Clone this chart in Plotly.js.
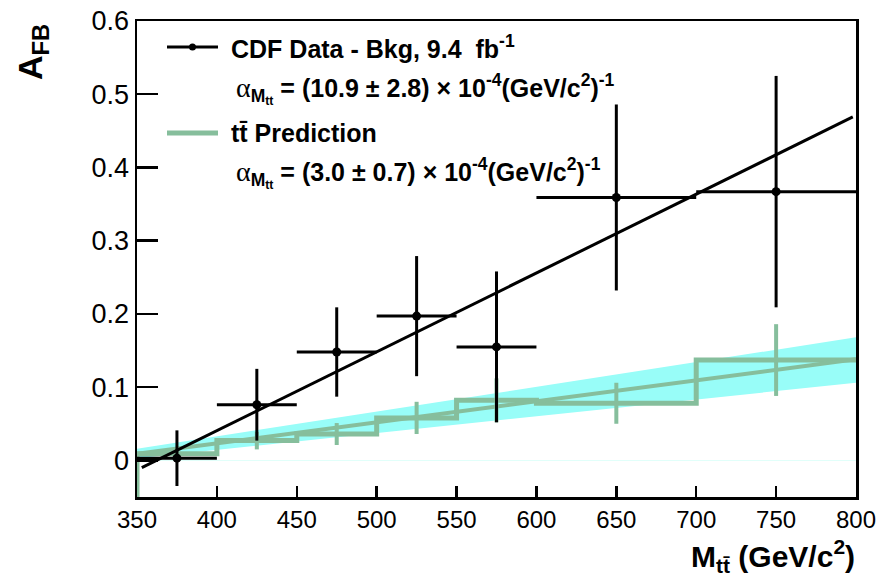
<!DOCTYPE html>
<html>
<head>
<meta charset="utf-8">
<script src="https://cdn.plot.ly/plotly-3.0.1.min.js"></script>
<style>html,body{margin:0;padding:0;background:#fff;}#chart{width:883px;height:578px;}</style>
</head>
<body>
<div id="chart"></div>
<script>
// ---- data ----
const binLow  = [350, 400, 450, 500, 550, 600, 700];
const binHigh = [400, 450, 500, 550, 600, 700, 800];
const dataCenters = [375, 425, 475, 525, 575, 650, 750];
const dataAfb = [0.003, 0.076, 0.148, 0.197, 0.155, 0.359, 0.367];
const dataErr = [0.038, 0.049, 0.061, 0.082, 0.103, 0.127, 0.158];

const predAfb = [0.009, 0.027, 0.036, 0.058, 0.082, 0.078, 0.137];
const predErr = [0.006, 0.012, 0.015, 0.022, 0.030, 0.028, 0.049];

const fitX = [353, 798];
const fitY = [-0.010, 0.469];

const predLineX = [350, 800];
const predLineY = [0.009, 0.138];

const bandX = [350, 800];
const bandLow = [0.003, 0.106];
const bandHigh = [0.016, 0.168];

const xTicks = [350, 400, 450, 500, 550, 600, 650, 700, 750, 800];
const yTicks = [0, 0.1, 0.2, 0.3, 0.4, 0.5, 0.6];
const yRange = [-0.05, 0.6];

// ---- derived ----
const halfW = binLow.map((l, i) => (binHigh[i] - l) / 2);
const stepX = [binLow[0]], stepY = [yRange[0]];
binLow.forEach((l, i) => { stepX.push(l, binHigh[i]); stepY.push(predAfb[i], predAfb[i]); });

const GREEN = 'rgb(134,190,156)';
const CYAN = 'rgb(152,253,248)';
const FONT = 'Liberation Sans, Arial, Helvetica, sans-serif';

const traces = [
  {x: bandX, y: bandLow, mode: 'lines', line: {width: 0, color: CYAN}, hoverinfo: 'skip', showlegend: false},
  {x: bandX, y: bandHigh, mode: 'lines', line: {width: 0, color: CYAN}, fill: 'tonexty', fillcolor: CYAN, hoverinfo: 'skip', showlegend: false},
  {x: stepX, y: stepY, mode: 'lines', line: {color: GREEN, width: 5}, showlegend: false},
  {x: predLineX, y: predLineY, mode: 'lines', line: {color: GREEN, width: 4}, showlegend: false},
  {x: dataCenters, y: predAfb, mode: 'markers', marker: {size: 1, color: GREEN},
   error_y: {type: 'data', array: predErr, visible: true, color: GREEN, thickness: 4, width: 0}, showlegend: false},
  {x: fitX, y: fitY, mode: 'lines', line: {color: 'black', width: 3}, showlegend: false},
  {x: dataCenters, y: dataAfb, mode: 'markers', marker: {size: 9, color: 'black'},
   error_y: {type: 'data', array: dataErr, visible: true, color: 'black', thickness: 3, width: 0},
   error_x: {type: 'data', array: halfW, visible: true, color: 'black', thickness: 3, width: 0}, showlegend: false}
];

// paper-coordinate helpers (plot area 137..856 x 21..497 px)
const L = 137, R = 856, T = 21, B = 497;
const px = v => (v - L) / (R - L);
const py = v => (B - v) / (B - T);

const alpha = '<span style="font-family:Liberation Serif, Times New Roman, serif;font-weight:normal;font-size:28px">α</span>';
const annFont = {family: FONT, size: 25, color: 'black', weight: 'bold'};

const layout = {
  width: 883, height: 578,
  margin: {l: L, r: 883 - R, t: T, b: 578 - B},
  paper_bgcolor: 'white', plot_bgcolor: 'white',
  font: {family: FONT, color: 'black'},
  xaxis: {
    range: [350, 800], tickvals: xTicks, ticktext: xTicks.map(String),
    ticks: 'inside', ticklen: 11, tickwidth: 2.5, tickcolor: 'black',
    showline: true, linecolor: 'black', linewidth: 2.5, mirror: true,
    showgrid: false, zeroline: false,
    tickfont: {family: FONT, size: 24, color: 'black'}
  },
  yaxis: {
    range: yRange, tickvals: yTicks, ticktext: yTicks.map(v => v === 0 ? '0' : v.toFixed(1)),
    ticks: 'inside', ticklen: 21, tickwidth: 2.5, tickcolor: 'black',
    showline: true, linecolor: 'black', linewidth: 2.5, mirror: true,
    showgrid: false, zeroline: true, zerolinecolor: 'rgb(225,255,250)', zerolinewidth: 1,
    tickfont: {family: FONT, size: 27, color: 'black'}
  },
  shapes: [
    {type: 'line', xref: 'paper', yref: 'paper', x0: px(167), x1: px(218), y0: py(47), y1: py(47), line: {color: 'black', width: 3}},
    {type: 'circle', xref: 'paper', yref: 'paper', x0: px(189), x1: px(196), y0: py(50.5), y1: py(43.5), fillcolor: 'black', line: {width: 0}},
    {type: 'line', xref: 'paper', yref: 'paper', x0: px(167), x1: px(218), y0: py(133), y1: py(133), line: {color: GREEN, width: 5}}
  ],
  annotations: [
    {xref: 'paper', yref: 'paper', x: px(229), y: py(47), xanchor: 'left', yanchor: 'middle', showarrow: false,
     text: 'CDF Data - Bkg, 9.4  fb<sup>-1</sup>', font: annFont},
    {xref: 'paper', yref: 'paper', x: px(234), y: py(89), xanchor: 'left', yanchor: 'middle', showarrow: false,
     text: alpha + '<sub>M<sub>tt</sub></sub> = (10.9 ± 2.8) × 10<sup>-4</sup>(GeV/c<sup>2</sup>)<sup>-1</sup>', font: annFont},
    {xref: 'paper', yref: 'paper', x: px(229), y: py(133), xanchor: 'left', yanchor: 'middle', showarrow: false,
     text: 'tt\u0304 Prediction', font: annFont},
    {xref: 'paper', yref: 'paper', x: px(234), y: py(173), xanchor: 'left', yanchor: 'middle', showarrow: false,
     text: alpha + '<sub>M<sub>tt</sub></sub> = (3.0 ± 0.7) × 10<sup>-4</sup>(GeV/c<sup>2</sup>)<sup>-1</sup>', font: annFont},
    {xref: 'paper', yref: 'paper', x: px(32), y: py(52), xanchor: 'center', yanchor: 'middle', showarrow: false, textangle: -90,
     text: 'A<sub>FB</sub>', font: {family: FONT, size: 34, color: 'black', weight: 'bold'}},
    {xref: 'paper', yref: 'paper', x: px(857), y: py(556), xanchor: 'right', yanchor: 'middle', showarrow: false,
     text: 'M<sub>tt\u0304</sub> (GeV/c<sup>2</sup>)', font: {family: FONT, size: 30, color: 'black', weight: 'bold'}}
  ]
};

Plotly.newPlot('chart', traces, layout, {displayModeBar: false, staticPlot: true});
</script>
</body>
</html>
